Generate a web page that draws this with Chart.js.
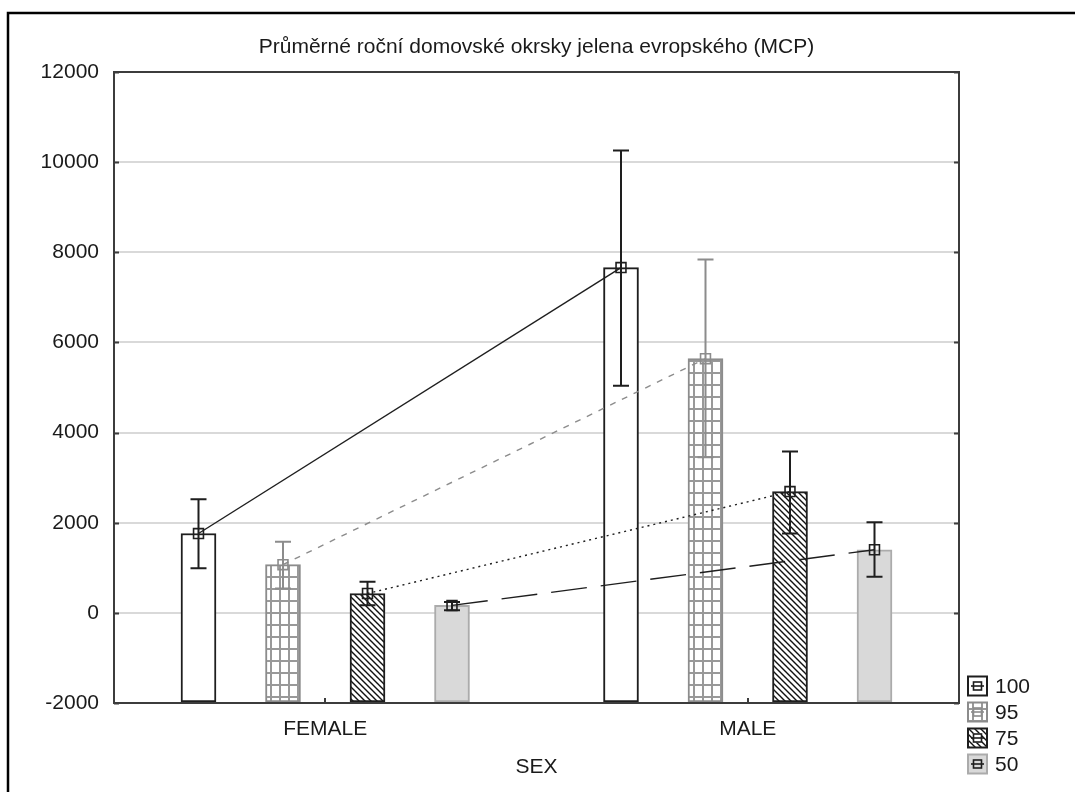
<!DOCTYPE html>
<html>
<head>
<meta charset="utf-8">
<script src="https://cdn.jsdelivr.net/npm/chart.js@4.4.1/dist/chart.umd.min.js"></script>
<style>
  html, body { margin: 0; padding: 0; background: #fff; overflow: hidden; }
  canvas { display: block; }
</style>
</head>
<body>
<canvas id="chart" width="1075" height="792"></canvas>
<script>
const titleText = "Průměrné roční domovské okrsky jelena evropského (MCP)";
const categories = ["FEMALE", "MALE"];
const seriesLabels = ["100", "95", "75", "50"];

// means and whisker ends
const mean100 = [1760, 7660];
const low100 = [990, 5040];
const high100 = [2520, 10260];
const mean95 = [1070, 5640];
const low95 = [540, 3450];
const high95 = [1580, 7840];
const mean75 = [430, 2690];
const low75 = [170, 1760];
const high75 = [690, 3580];
const mean50 = [165, 1400];
const low50 = [60, 800];
const high50 = [240, 2010];

const yTicks = [-2000, 0, 2000, 4000, 6000, 8000, 10000, 12000];

const FONT = '"Liberation Sans", Arial, sans-serif';
const FSIZE = 21;
const TEXT = "#1a1a1a";
const CAT_PCT = 0.8;

const ctx = document.getElementById("chart").getContext("2d");

function pattern(w, h, paint) {
  const c = document.createElement("canvas");
  c.width = w;
  c.height = h;
  const g = c.getContext("2d");
  paint(g, w, h);
  return ctx.createPattern(c, "repeat");
}

const gridPat = pattern(9, 12, (g, w, h) => {
  g.fillStyle = "#fff";
  g.fillRect(0, 0, w, h);
  g.fillStyle = "#999";
  g.fillRect(0, 0, w, 2);
  g.fillRect(0, 0, 2, h);
});

const hatchPat = pattern(6, 6, (g, w, h) => {
  g.fillStyle = "#fff";
  g.fillRect(0, 0, w, h);
  g.strokeStyle = "#111";
  g.lineWidth = 1.4;
  g.beginPath();
  g.moveTo(-1, -1); g.lineTo(w + 1, h + 1);
  g.moveTo(-1, h - 1); g.lineTo(1, h + 1);
  g.moveTo(w - 1, -1); g.lineTo(w + 1, 1);
  g.stroke();
});

const styles = [
  { fill: "#fff", border: "#1e1e1e", err: "#1e1e1e", line: "#1e1e1e", dash: [] },
  { fill: gridPat, border: "#8c8c8c", err: "#8c8c8c", line: "#8c8c8c", dash: [6, 7] },
  { fill: hatchPat, border: "#1e1e1e", err: "#1e1e1e", line: "#1e1e1e", dash: [2, 4] },
  { fill: "#d9d9d9", border: "#ababab", err: "#1e1e1e", line: "#1e1e1e", dash: [36, 14] },
];

const means = [mean100, mean95, mean75, mean50];
const lows = [low100, low95, low75, low50];
const highs = [high100, high95, high75, high50];

// centre of bar k inside a category, in category units
const barShift = (k) => -CAT_PCT / 2 + (k + 0.5) * CAT_PCT / seriesLabels.length;

const barSets = seriesLabels.map((lab, k) => ({
  type: "bar",
  label: lab,
  data: means[k].map((v, i) => ({ x: i + barShift(k), y: v })),
  errLow: lows[k],
  errHigh: highs[k],
  base: yTicks[0],
  grouped: false,
  barThickness: 35,
  backgroundColor: styles[k].fill,
  borderColor: styles[k].border,
  borderWidth: 2,
  borderSkipped: false,
  order: 2,
}));

const lineSets = seriesLabels.map((lab, k) => ({
  type: "line",
  label: lab + " line",
  data: means[k].map((v, i) => ({ x: i + barShift(k), y: v })),
  borderColor: styles[k].line,
  borderWidth: 1.4,
  borderDash: styles[k].dash,
  pointStyle: "rect",
  pointRadius: 7,
  pointBorderWidth: 1.6,
  pointBorderColor: styles[k].err,
  pointBackgroundColor: "rgba(0,0,0,0)",
  fill: false,
  order: 1,
}));

const decor = {
  id: "decor",
  beforeDraw(chart) {
    const c = chart.ctx;
    c.save();
    c.strokeStyle = "#000";
    c.lineWidth = 2.5;
    c.beginPath();
    c.moveTo(8, 1100);
    c.lineTo(8, 13);
    c.lineTo(1100, 13);
    c.stroke();
    c.restore();
  },
  afterDatasetsDraw(chart) {
    const c = chart.ctx;
    const y = chart.scales.y;
    c.save();
    barSets.forEach((ds, k) => {
      const meta = chart.getDatasetMeta(k);
      meta.data.forEach((el, i) => {
        const top = y.getPixelForValue(ds.errHigh[i]);
        const bot = y.getPixelForValue(ds.errLow[i]);
        c.strokeStyle = styles[k].err;
        c.lineWidth = 2;
        c.beginPath();
        c.moveTo(el.x, top); c.lineTo(el.x, bot);
        c.moveTo(el.x - 8, top); c.lineTo(el.x + 8, top);
        c.moveTo(el.x - 8, bot); c.lineTo(el.x + 8, bot);
        c.stroke();
      });
    });
    c.restore();
  },
  afterDraw(chart) {
    const c = chart.ctx;
    const a = chart.chartArea;
    const y = chart.scales.y;
    const x = chart.scales.x;
    c.save();
    // plot frame
    c.strokeStyle = "#3c3c3c";
    c.lineWidth = 2;
    c.strokeRect(a.left, a.top, a.right - a.left, a.bottom - a.top);
    // inward ticks
    c.beginPath();
    yTicks.forEach((v) => {
      const p = Math.round(y.getPixelForValue(v)) + 0.5;
      c.moveTo(a.left, p); c.lineTo(a.left + 5, p);
      c.moveTo(a.right, p); c.lineTo(a.right - 5, p);
    });
    categories.forEach((_, i) => {
      const p = Math.round(x.getPixelForValue(i));
      c.moveTo(p, a.bottom); c.lineTo(p, a.bottom - 5);
    });
    c.stroke();
    // title
    c.fillStyle = TEXT;
    c.font = FSIZE + "px " + FONT;
    c.textAlign = "center";
    c.textBaseline = "middle";
    c.fillText(titleText, (a.left + a.right) / 2, 47);
    // legend
    const lx = 968;
    c.textAlign = "left";
    seriesLabels.forEach((lab, k) => {
      const cy = 686 + k * 26;
      const st = styles[k];
      c.fillStyle = st.fill;
      c.fillRect(lx, cy - 9.5, 19, 19);
      c.strokeStyle = st.border;
      c.lineWidth = 2;
      c.strokeRect(lx, cy - 9.5, 19, 19);
      if (k === 2) {
        c.fillStyle = "#fff";
        c.fillRect(lx + 5, cy - 4.5, 9, 9);
      }
      c.strokeStyle = st.err;
      c.lineWidth = 1.6;
      c.strokeRect(lx + 5.5, cy - 4, 8, 8);
      c.beginPath();
      c.moveTo(lx + 3, cy); c.lineTo(lx + 16, cy);
      c.stroke();
      c.fillStyle = TEXT;
      c.fillText(lab, lx + 27, cy + 1);
    });
    c.restore();
  },
};

new Chart(ctx, {
  type: "bar",
  data: {
    datasets: [...barSets, ...lineSets],
  },
  options: {
    responsive: false,
    animation: false,
    layout: { padding: { top: 72, right: 116, left: 0, bottom: 0 } },
    plugins: {
      legend: { display: false },
      title: { display: false },
      tooltip: { enabled: false },
    },
    scales: {
      x: {
        type: "linear",
        offset: false,
        min: -0.5,
        max: categories.length - 0.5,
        afterBuildTicks: (s) => { s.ticks = categories.map((_, i) => ({ value: i })); },
        grid: { display: false },
        border: { display: false },
        ticks: {
          color: TEXT,
          font: { family: FONT, size: FSIZE },
          padding: 6,
          callback: (v) => categories[v],
        },
        title: {
          display: true,
          text: "SEX",
          color: TEXT,
          font: { family: FONT, size: FSIZE },
          padding: { top: 0, bottom: 12 },
        },
        afterFit: (s) => { s.height = 89; },
      },
      y: {
        type: "linear",
        min: yTicks[0],
        max: yTicks[yTicks.length - 1],
        afterBuildTicks: (s) => { s.ticks = yTicks.map((v) => ({ value: v })); },
        grid: { color: "#d9d9d9", lineWidth: 2, drawTicks: false },
        border: { display: false },
        ticks: {
          color: TEXT,
          font: { family: FONT, size: FSIZE },
          padding: 15,
          callback: (v) => String(v),
        },
        afterFit: (s) => { s.width = 114; },
      },
    },
  },
  plugins: [decor],
});
</script>
</body>
</html>
